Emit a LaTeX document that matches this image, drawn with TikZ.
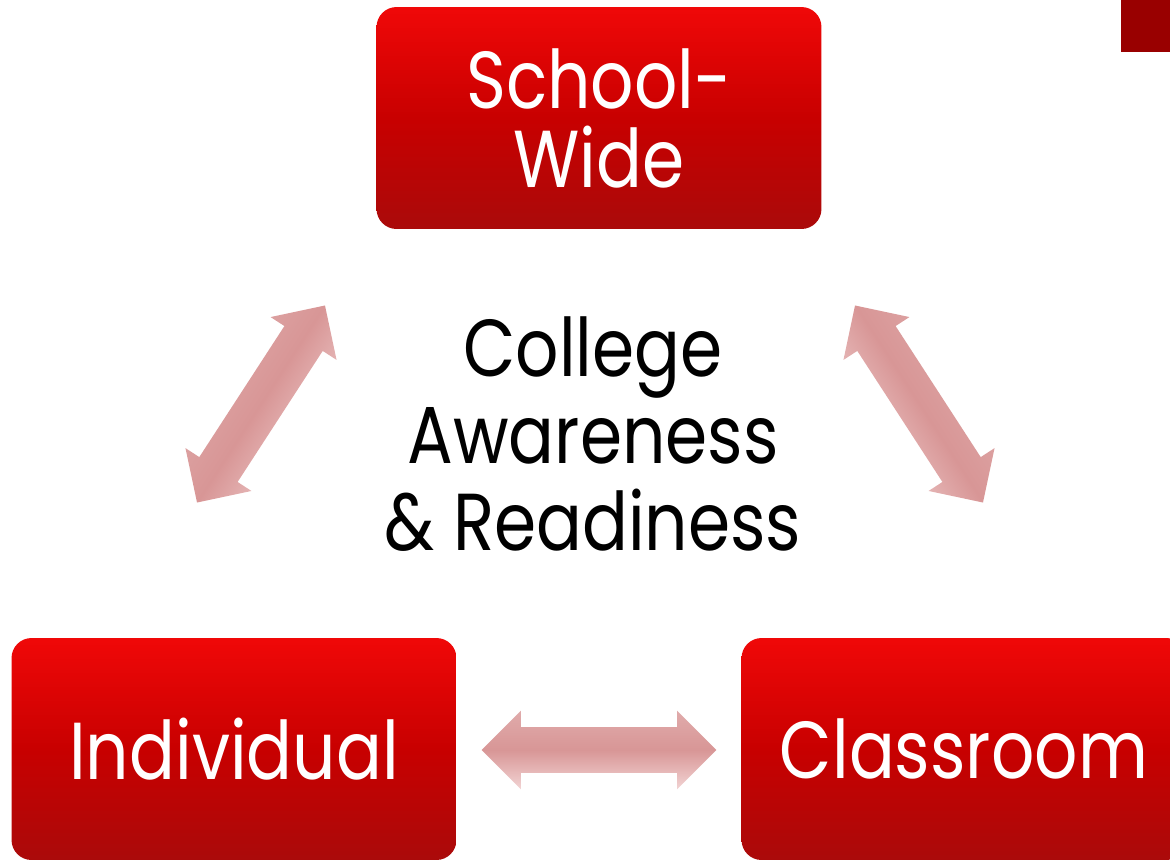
\documentclass[tikz,border=0pt]{standalone}
\usepackage{fontspec}
\setmainfont{Poppins}[FakeStretch=0.84]
\usepackage{xcolor}
\usetikzlibrary{shapes,arrows,positioning,calc}

\definecolor{boxtop}{RGB}{240,8,8}
\definecolor{boxmid}{RGB}{200,0,0}
\definecolor{boxbot}{RGB}{170,10,10}
\definecolor{linkmid}{RGB}{216,150,150}
\definecolor{linkedge}{RGB}{242,212,212}
\definecolor{cornerred}{RGB}{153,0,0}

\tikzset{
  levelbox/.style={rectangle, rounded corners=0.4cm, minimum width=8.9cm,
    minimum height=4.44cm, inner sep=0pt, top color=boxtop, bottom color=boxbot,
    middle color=boxmid, draw=none, text=white, align=center,
    font=\fontsize{46}{45}\selectfont},
  linkarrow/.style={double arrow, double arrow head extend=0.33cm,
    inner xsep=0pt, inner ysep=0.45cm, minimum height=4.7cm,
    top color=linkmid!80!white, bottom color=linkedge, middle color=linkmid}
}

\begin{document}
\begin{tikzpicture}[x=0.02cm,y=-0.02cm]
    \useasboundingbox (0,0) rectangle (1170,860);
    \clip (0,0) rectangle (1170,860);
    \fill[cornerred] (1121,0) rectangle (1170,52);

    % the three levels
    \node[levelbox] (school) at (599,118) {School-\\Wide};
    \node[levelbox] (indiv) at (234,749) {Individual};
    \node[levelbox] (class) at (964,749) {Classroom};

    \node[align=center, font=\fontsize{46}{49.5}\selectfont] (goal) at (593,434)
        {College\\Awareness\\\& Readiness};

    % links between levels
    \node[linkarrow, rotate=57, shading angle=57] (schoolindiv) at (261,404) {};
    \node[linkarrow, rotate=-57, shading angle=-57] (schoolclass) at (919,404) {};
    \node[linkarrow] (indivclass) at (599,750) {};
\end{tikzpicture}
\end{document}
